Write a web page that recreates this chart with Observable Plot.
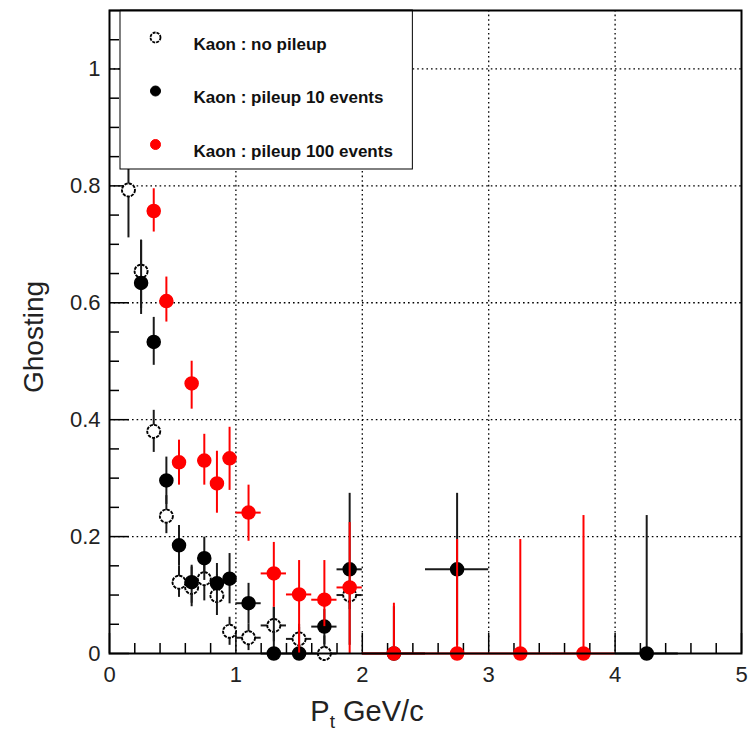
<!DOCTYPE html>
<html><head><meta charset="utf-8">
<script src="https://cdn.jsdelivr.net/npm/d3@7"></script>
<script src="https://cdn.jsdelivr.net/npm/@observablehq/plot@0.6"></script>
<style>
body{margin:0;background:#fff}
#chart{position:relative;width:754px;height:732px}
</style>
</head><body><div id="chart"></div>
<script>
// ---- data: Kaon, no pileup (open circles)
const noX   = [0.15,0.25,0.35,0.45,0.55,0.65,0.75,0.85,0.95,1.1,1.3,1.5,1.7,1.9];
const noY   = [0.793,0.654,0.380,0.235,0.122,0.113,0.128,0.099,0.038,0.027,0.048,0.025,0.000,0.100];
const noLo  = [0.711,0.590,0.344,0.205,0.096,0.080,0.090,0.065,0.014,0.005,0.020,0.005,0.000,0.075];
const noHi  = [0.875,0.707,0.416,0.270,0.150,0.148,0.165,0.135,0.062,0.050,0.079,0.045,0.030,0.125];
const noXe  = [0.05,0.05,0.05,0.05,0.05,0.05,0.05,0.05,0.05,0.1,0.1,0.1,0.1,0.1];

// ---- data: Kaon, pileup 10 events (black)
const p10X  = [0.25,0.35,0.45,0.55,0.65,0.75,0.85,0.95,1.1,1.3,1.5,1.7,1.9,2.25,2.75,4.25];
const p10Y  = [0.634,0.533,0.296,0.185,0.122,0.163,0.120,0.128,0.086,0.000,0.000,0.046,0.144,0.000,0.144,0.000];
const p10Lo = [0.580,0.493,0.255,0.150,0.086,0.125,0.085,0.085,0.050,0.000,0.000,0.015,0.014,0.000,0.014,0.000];
const p10Hi = [0.707,0.575,0.336,0.219,0.151,0.199,0.154,0.171,0.120,0.079,0.050,0.075,0.274,0.080,0.274,0.236];
const p10Xe = [0.05,0.05,0.05,0.05,0.05,0.05,0.05,0.05,0.1,0.1,0.1,0.1,0.1,0.25,0.25,0.25];

// ---- data: Kaon, pileup 100 events (red)
const p100X  = [0.35,0.45,0.55,0.65,0.75,0.85,0.95,1.1,1.3,1.5,1.7,1.9,2.25,2.75,3.25,3.75];
const p100Y  = [0.757,0.603,0.327,0.462,0.330,0.291,0.334,0.241,0.137,0.101,0.092,0.113,0.000,0.000,0.000,0.000];
const p100Lo = [0.721,0.567,0.288,0.418,0.288,0.240,0.279,0.192,0.079,0.000,0.046,0.000,0.000,0.000,0.000,0.000];
const p100Hi = [0.795,0.644,0.365,0.500,0.375,0.346,0.387,0.288,0.190,0.159,0.159,0.224,0.086,0.195,0.195,0.236];
const p100Xe = [0.05,0.05,0.05,0.05,0.05,0.05,0.05,0.1,0.1,0.1,0.1,0.1,0.25,0.25,0.25,0.25];

// ---- axes
const xTicks = [0,1,2,3,4,5];
const xTickLabels = ["0","1","2","3","4","5"];
const yTicks = [0,0.2,0.4,0.6,0.8,1.0];
const yTickLabels = ["0","0.2","0.4","0.6","0.8","1"];
const xGrid = [1,2,3,4];
const yGrid = [0.2,0.4,0.6,0.8,1.0];
const xMinor = d3.range(0.2,5,0.2).filter(v => Math.abs(v - Math.round(v)) > 1e-6);
const yMinor = d3.range(0.05,1.1001,0.05).filter(v => Math.abs(v/0.2 - Math.round(v/0.2)) > 1e-6);

const legendLabels = ["Kaon : no pileup","Kaon : pileup 10 events","Kaon : pileup 100 events"];
const legendBox = [{x1:0.087, x2:2.4, y1:0.828, y2:1.1}];

const rows = (X,Y,Lo,Hi,Xe) => X.map((x,i) => ({x, y:Y[i], lo:Lo[i], hi:Hi[i], xe:Xe[i]}));
const sNo = rows(noX,noY,noLo,noHi,noXe);
const s10 = rows(p10X,p10Y,p10Lo,p10Hi,p10Xe);
const s100 = rows(p100X,p100Y,p100Lo,p100Hi,p100Xe);

const W = 754, H = 732, mL = 109, mR = 13, mT = 10, mB = 79;
const fw = W - mL - mR, fh = H - mT - mB;
const RED = "#ff0000", DARK = "#1a1a1a";

function bars(data, color) {
  return [
    Plot.ruleX(data, {x:"x", y1:"lo", y2:"hi", stroke:color, strokeWidth:2}),
    Plot.ruleY(data, {y:"y", x1:d=>d.x-d.xe, x2:d=>d.x+d.xe, stroke:color, strokeWidth:2})
  ];
}

const legendMarks = [];
const legStyles = [
  {fill:"white", stroke:"black", strokeWidth:1.8, strokeDasharray:"3,1"},
  {fill:"black", stroke:"black", strokeWidth:1},
  {fill:RED, stroke:RED, strokeWidth:1}
];
legendLabels.forEach((lab,i) => {
  const dy = 27 + i*53.5;
  legendMarks.push(Plot.dot([lab], {frameAnchor:"top-left", dx:46, dy, r:5, ...legStyles[i]}));
  legendMarks.push(Plot.text([lab], {frameAnchor:"top-left", dx:84, dy, text:d=>d, textAnchor:"start",
    fontSize:17, fontWeight:"bold", fill:"#111"}));
});

const plot = Plot.plot({
  width: W, height: H,
  marginLeft: mL, marginRight: mR, marginTop: mT, marginBottom: mB,
  style: {fontFamily: "'Liberation Sans', Arial, Helvetica, sans-serif", fontSize: "22px", background: "white", color: "black"},
  x: {domain: [0,5]},
  y: {domain: [0,1.1]},
  marks: [
    Plot.ruleX(xGrid, {x:d=>d, stroke:"black", strokeWidth:1.3, strokeDasharray:"1.6,3"}),
    Plot.ruleY(yGrid, {y:d=>d, stroke:"black", strokeWidth:1.3, strokeDasharray:"1.6,3"}),
    // ticks
    Plot.tickX(xTicks, {x:d=>d, insetTop: fh-20, stroke:"black", strokeWidth:1.5}),
    Plot.tickX(xMinor, {x:d=>d, insetTop: fh-10, stroke:"black", strokeWidth:1.5}),
    Plot.tickY(yTicks, {y:d=>d, insetRight: fw-20, stroke:"black", strokeWidth:1.5}),
    Plot.tickY(yMinor, {y:d=>d, insetRight: fw-10, stroke:"black", strokeWidth:1.5}),
    // no pileup
    ...bars(sNo, DARK),
    Plot.dot(sNo, {x:"x", y:"y", r:6.5, fill:"white", stroke:"black", strokeWidth:1.9, strokeDasharray:"3.2,1.1"}),
    // pileup 10
    ...bars(s10, DARK),
    Plot.dot(s10, {x:"x", y:"y", r:6.5, fill:"black", stroke:"black"}),
    // pileup 100
    ...bars(s100, RED),
    Plot.dot(s100, {x:"x", y:"y", r:6.5, fill:RED, stroke:RED}),
    // legend
    Plot.rect(legendBox, {x1:"x1", x2:"x2", y1:"y1", y2:"y2", fill:"white", stroke:"black", strokeWidth:1}),
    ...legendMarks,
    Plot.frame({stroke:"black", strokeWidth:2}),
    Plot.axisX(xTicks, {tickSize:0, tickPadding:13, tickFormat:(d,i)=>xTickLabels[i], label:null, fill:"#222"}),
    Plot.axisY(yTicks, {tickSize:0, tickPadding:9, tickFormat:(d,i)=>yTickLabels[i], label:null, fill:"#222"})
  ]
});

document.getElementById("chart").appendChild(plot);

const svg = d3.select(plot);
const font = "'Liberation Sans', Arial, Helvetica, sans-serif";
const xl = svg.append("text").attr("x", 367).attr("y", 721)
  .attr("font-family", font).attr("font-size", 29).attr("fill", "#222");
xl.append("tspan").text("P");
xl.append("tspan").attr("font-size", 19).attr("dy", 7).text("t");
xl.append("tspan").attr("dy", -7).text(" GeV/c");

svg.append("text").attr("transform", "translate(43,337) rotate(-90)")
  .attr("text-anchor", "middle").attr("font-family", font).attr("font-size", 28).attr("fill", "#222")
  .text("Ghosting");
</script>
</body></html>
